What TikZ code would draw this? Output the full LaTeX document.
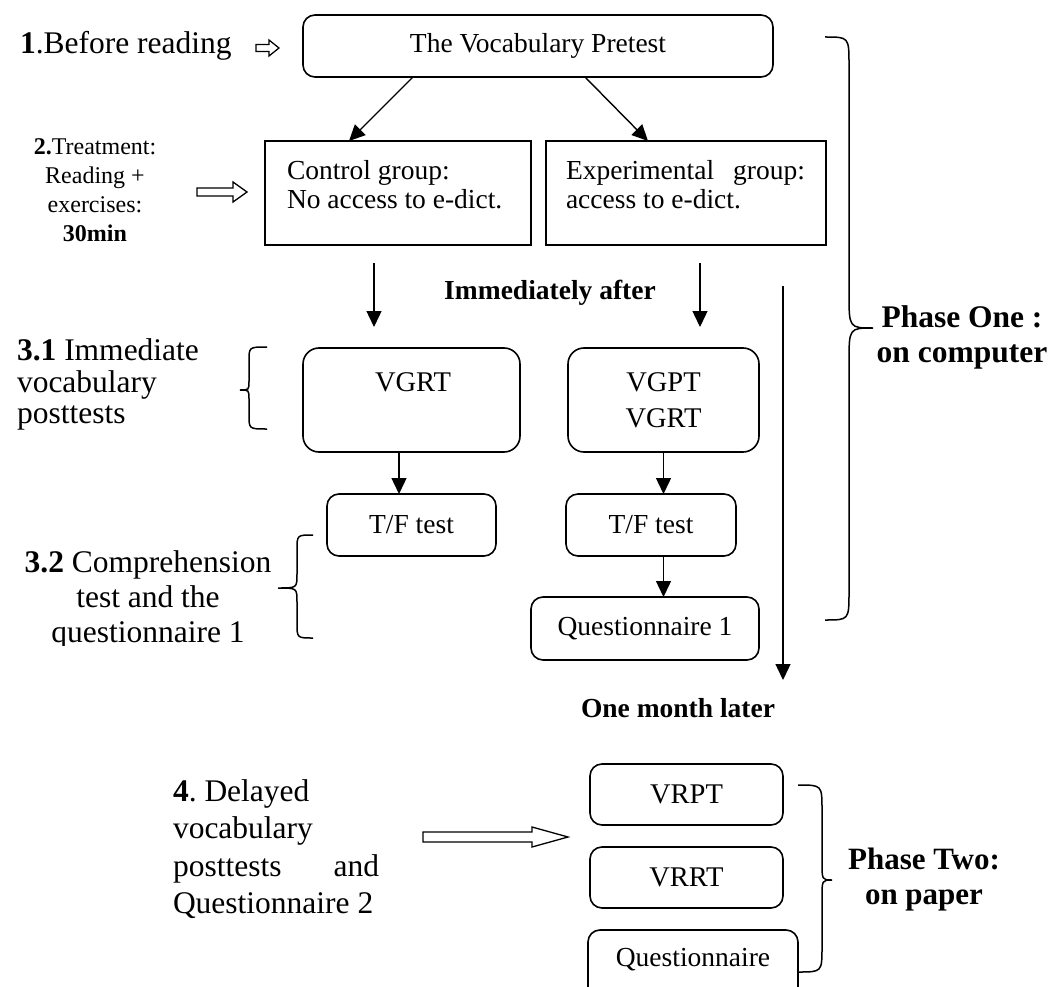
\documentclass[tikz,border=0pt]{standalone}
\usepackage{fontspec}
\setmainfont{Liberation Serif}
\usetikzlibrary{arrows.meta,calc}
\frenchspacing

% font sizes used in the flow chart
\newcommand\fbig{\fontsize{31.5pt}{31.5pt}\selectfont}
\newcommand\fmed{\fontsize{27.5pt}{29pt}\selectfont}
\newcommand\fsml{\fontsize{24pt}{29pt}\selectfont}

% open block arrow: x start, x where head starts, x tip, y, half shaft, half head
\newcommand\hollowarrow[6]{%
  \draw[hollow] (#1,#4+#5) -- (#2,#4+#5) -- (#2,#4+#6) -- (#3,#4)
    -- (#2,#4-#6) -- (#2,#4-#5) -- (#1,#4-#5) -- cycle;}

% curly brace: tip x, spine x, point x, top y, middle y, bottom y, end radius, middle radius
\newcommand\curlybrace[8]{%
  \draw[curly] (#1,#4) .. controls (#2,#4) .. (#2,#4-#7) -- (#2,#5+#8)
    .. controls (#2,#5) .. (#3,#5) .. controls (#2,#5) .. (#2,#5-#8)
    -- (#2,#6+#7) .. controls (#2,#6) .. (#1,#6);}

\begin{document}
\begin{tikzpicture}[x=1pt,y=1pt,
  box/.style={draw, line width=1.6pt, rounded corners=12pt, inner sep=0pt, outer sep=0pt},
  bigbox/.style={box, rounded corners=16pt},
  sqbox/.style={draw, line width=1.6pt, inner sep=0pt, outer sep=0pt},
  arr/.style={line width=1.4pt, -{Triangle[length=16pt,width=15pt]}},
  hollow/.style={draw, line width=1.3pt, line join=miter, fill=white},
  curly/.style={line width=1.5pt},
  txt/.style={inner sep=0pt, outer sep=0pt},
]
\useasboundingbox (0,0) rectangle (1052,-987);
\clip (0,0) rectangle (1052,-987);

% ---------- step 1 ----------
\node[txt, anchor=base west, font=\fbig] (s1) at (20,-54) {\textbf{1}.Before reading};
\hollowarrow{256}{269}{279}{-48}{3.5}{8}
\node[box, minimum width=470pt, minimum height=62pt] (pre) at (538,-46) {};
\node[txt, font=\fmed] (pretxt) at (538,-46) {The Vocabulary Pretest};

% ---------- step 2 ----------
\node[txt, align=center, font=\fsml] (s2) at (95,-190) {\textbf{2.}Treatment:\\Reading +\\exercises:\\\textbf{30min}};
\hollowarrow{197}{233}{247}{-192}{4}{10}
\node[sqbox, minimum width=266pt, minimum height=104pt] (ctrl) at (398,-193) {};
\node[txt, anchor=west, align=left, font=\fmed] (ctrltxt) at (287,-184.5) {Control group:\\No access to e-dict.};
\node[sqbox, minimum width=280pt, minimum height=104pt] (expg) at (686,-193) {};
\node[txt, anchor=west, align=left, font=\fmed] (exptxt) at (566,-184.5) {\makebox[239pt][s]{Experimental group:}\\access to e-dict.};

\draw[arr] ($(pre.south west)+(110,0)$) -- ($(ctrl.north west)+(84,0)$);
\draw[arr] ($(pre.south west)+(282,0)$) -- ($(expg.north west)+(102,0)$);

% ---------- step 3.1 ----------
\node[txt, font=\fmed] (imm) at (550,-293) {\textbf{Immediately after}};
\node[txt, anchor=west, align=left, font=\fbig] (s31) at (17,-384.5) {\textbf{3.1} Immediate\\vocabulary\\posttests};
\curlybrace{267}{249}{240}{-347}{-390}{-429}{14}{9}

\node[bigbox, minimum width=217pt, minimum height=104pt] (vgrt) at (411.5,-400) {};
\node[txt, font=\fontsize{28.5pt}{36pt}\selectfont] (vgrttxt) at (413,-382) {VGRT};
\node[bigbox, minimum width=191pt, minimum height=104pt] (vgpt) at (663.5,-400) {};
\node[txt, align=center, font=\fontsize{28.5pt}{36pt}\selectfont] (vgpttxt) at (663.5,-400) {VGPT\\VGRT};

\draw[arr] ($(ctrl.south west)+(109,-18)$) -- ($(vgrt.north west)+(71,21)$);
\draw[arr] ($(expg.south west)+(154,-18)$) -- ($(vgpt.north west)+(132,21)$);

% ---------- step 3.2 ----------
\node[box, minimum width=169pt, minimum height=62pt] (tf1) at (411.5,-525) {};
\node[txt, font=\fmed] (tf1txt) at (tf1.center) {T/F test};
\node[box, minimum width=170pt, minimum height=62pt] (tf2) at (651,-525) {};
\node[txt, font=\fmed] (tf2txt) at (tf2.center) {T/F test};
\node[box, minimum width=228pt, minimum height=63pt] (q1) at (645,-628.5) {};
\node[txt, font=\fmed] (q1txt) at (q1.center) {Questionnaire 1};

\draw[arr] ($(vgrt.south west)+(96,0)$) -- ($(tf1.north west)+(72,0)$);
\draw[arr] (vgpt.south) -- (vgpt.south |- tf2.north);
\draw[arr] (vgpt.south |- tf2.south) -- (vgpt.south |- q1.north);

\begin{scope}
  \clip (0,-530) rectangle (275,-645);
  \node[txt, align=center, font=\fontsize{31.5pt}{35pt}\selectfont] (s32) at (148,-600) {\textbf{3.2} Comprehension\\test and the\\questionnaire 1};
\end{scope}
\curlybrace{313}{297}{278}{-535}{-588}{-638}{15}{14}

% ---------- time line and phase one ----------
\coordinate (tlstart) at (783,-286);
\coordinate (tlend) at (783,-680);
\draw[arr] (tlstart) -- (tlend);
\curlybrace{825}{849}{873}{-37}{-328}{-620}{28}{35}
\node[txt, align=center, font=\fontsize{31.5pt}{35pt}\selectfont\bfseries] (ph1) at (962,-337.5) {Phase One :\\on computer};
\node[txt, font=\fmed] (later) at (678,-708) {\textbf{One month later}};

% ---------- step 4 ----------
\node[txt, anchor=west, align=left, font=\fontsize{31.5pt}{37.5pt}\selectfont] (s4) at (173,-849)
  {\mbox{\textbf{4}. Delayed}\\\mbox{vocabulary}\\\makebox[206pt][s]{posttests and}\\\mbox{Questionnaire 2}};
\hollowarrow{423}{532}{568}{-837}{5}{10}

\node[box, minimum width=193pt, minimum height=61pt] (vrpt) at (686.5,-794.5) {};
\node[txt, font=\fontsize{28.5pt}{34pt}\selectfont] (vrpttxt) at (vrpt.center) {VRPT};
\node[box, minimum width=193pt, minimum height=61pt] (vrrt) at (686.5,-877.5) {};
\node[txt, font=\fontsize{28.5pt}{34pt}\selectfont] (vrrttxt) at (vrrt.center) {VRRT};
\node[box, minimum width=210pt, minimum height=80pt] (qn) at (693,-970) {};
\node[txt, font=\fmed] (qntxt) at (693,-960) {Questionnaire};

\curlybrace{798}{822}{832}{-785}{-880}{-972}{25}{18}
\node[txt, align=center, font=\fontsize{31pt}{35pt}\selectfont\bfseries] (ph2) at (924,-880) {Phase Two:\\on paper};
\end{tikzpicture}
\end{document}
